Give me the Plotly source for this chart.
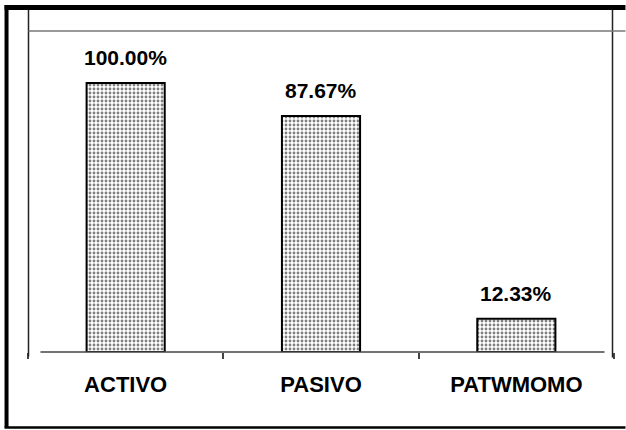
import plotly.graph_objects as go

categories = ["ACTIVO", "PASIVO", "PATWMOMO"]
values = [100.00, 87.67, 12.33]
value_labels = ["100.00%", "87.67%", "12.33%"]

FONT = "Liberation Sans, Arial, sans-serif"

# pixel -> paper helpers (plot area: x 27.5..614.5, y 31..352.5)
L, R, T, B = 27.5, 614.5, 31.0, 352.5


def px(x):
    return (x - L) / (R - L)


def py(y):
    return (B - y) / (B - T)


fig = go.Figure(
    go.Bar(
        x=categories,
        y=values,
        width=0.4,
        marker=dict(
            color="white",
            line=dict(color="black", width=2),
            pattern=dict(shape=".", fgcolor="black", bgcolor="white", size=4, solidity=0.4),
        ),
        hoverinfo="skip",
    )
)

for c, v, t in zip(categories, values, value_labels):
    fig.add_annotation(
        x=c, y=v, text=f"<b>{t}</b>", showarrow=False,
        yanchor="bottom", yshift=12,
        font=dict(family=FONT, size=21, color="black"),
    )

shapes = [
    # outer frame
    dict(x0=px(4), x1=px(626), y0=py(7.5), y1=py(7.5), line=dict(color="black", width=5)),
    dict(x0=px(6), x1=px(6), y0=py(5), y1=py(428), line=dict(color="black", width=4)),
    dict(x0=px(4), x1=px(626), y0=py(428), y1=py(428), line=dict(color="black", width=2.5)),
    # inner lines
    dict(x0=px(28), x1=px(28), y0=py(10), y1=py(357), line=dict(color="#222", width=1.5)),
    dict(x0=px(613), x1=px(613), y0=py(10), y1=py(358), line=dict(color="#222", width=1.5)),
    dict(x0=px(28), x1=px(626), y0=py(31), y1=py(31), line=dict(color="#777", width=1.5)),
    # baseline
    dict(x0=px(40), x1=px(605), y0=py(352.5), y1=py(352.5), line=dict(color="#444", width=1.5)),
]
for s in shapes:
    fig.add_shape(type="line", xref="paper", yref="paper", layer="above", **s)

fig.update_layout(
    width=626,
    height=430,
    margin=dict(l=L, r=626 - R, t=T, b=430 - B),
    paper_bgcolor="white",
    plot_bgcolor="white",
    showlegend=False,
    font=dict(family=FONT, color="black"),
)
fig.update_xaxes(
    range=[-0.5, 2.5],
    showgrid=False,
    showline=False,
    zeroline=False,
    tickson="boundaries",
    ticks="outside",
    ticklen=6,
    tickwidth=1.5,
    tickcolor="#444",
    ticklabelstandoff=17,
    tickfont=dict(family=FONT, size=22, color="black", weight="bold"),
)
fig.update_yaxes(
    range=[0, (B - T) / ((B - 83) / 100)],
    showgrid=False,
    showline=False,
    zeroline=False,
    showticklabels=False,
    ticks="",
)

# page body has a default 8px margin; drop it so the figure sits at the origin
fig.write_html(
    "out.html",
    config={"displayModeBar": False},
    post_script="document.body.style.margin='0';",
)
